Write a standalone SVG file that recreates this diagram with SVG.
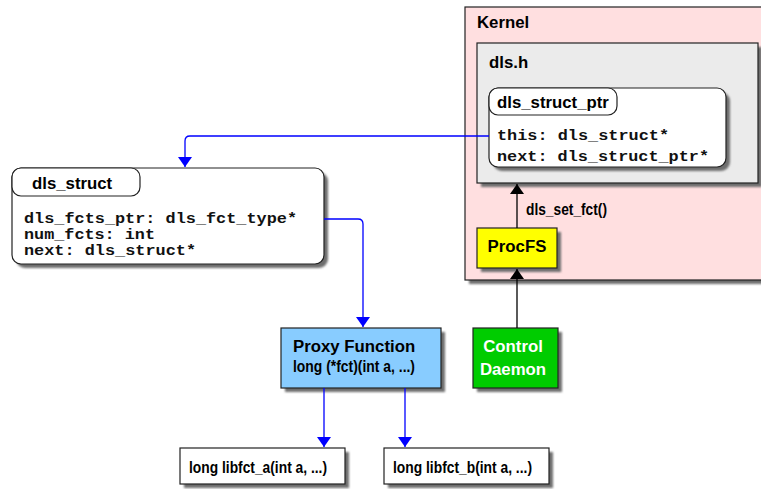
<svg xmlns="http://www.w3.org/2000/svg" width="761" height="489" viewBox="0 0 761 489">
  <defs>
    <filter id="soft" x="-10%" y="-10%" width="130%" height="130%">
      <feGaussianBlur stdDeviation="1"/>
    </filter>
    <marker id="arrBlack" viewBox="0 0 10 14" refX="10" refY="7" markerWidth="10" markerHeight="14" markerUnits="userSpaceOnUse" orient="auto">
      <path d="M0,0 L10,7 L0,14 Z" fill="#000"/>
    </marker>
    <marker id="arrBlue" viewBox="0 0 10 14" refX="10" refY="7" markerWidth="10" markerHeight="14" markerUnits="userSpaceOnUse" orient="auto">
      <path d="M0,0 L10,7 L0,14 Z" fill="#0000ff"/>
    </marker>
  </defs>
  <style>
    .shadow { fill: #6e6e6e; filter: url(#soft); }
    .box { stroke: #222; stroke-width: 1.2; }
    .sans { font-family: "Liberation Sans", Arial, sans-serif; font-weight: bold; font-size: 16.8px; fill: #000; }
    .mono { font-family: "Liberation Mono", "Courier New", monospace; font-weight: bold; font-size: 14px; fill: #111; }
    .white { fill: #fff; }
    .blue { stroke: #0000ff; stroke-width: 1.3; fill: none; }
    .black { stroke: #000; stroke-width: 1.3; fill: none; }
  </style>

  <rect width="761" height="489" fill="#fff"/>

  <!-- Kernel container -->
  <g id="kernel">
    <rect class="shadow" x="469" y="11" width="300" height="273"/>
    <rect class="box" x="465" y="7" width="300" height="273" fill="#ffdfe0"/>
    <text class="sans" x="477" y="28">Kernel</text>
  </g>

  <!-- dls.h header -->
  <g id="dls_h">
    <rect class="shadow" x="481" y="47" width="281" height="140"/>
    <rect class="box" x="477" y="43" width="281" height="140" fill="#ebebeb"/>
    <text class="sans" x="489" y="68">dls.h</text>
  </g>

  <!-- dls_struct_ptr record -->
  <g id="dls_struct_ptr">
    <rect class="shadow" x="493" y="92" width="237" height="79" rx="9"/>
    <rect class="box" x="489" y="88" width="237" height="79" rx="9" fill="#fff"/>
    <rect class="box" x="489" y="88" width="128" height="27" rx="9" fill="#fff"/>
    <text class="sans" x="497" y="108">dls_struct_ptr</text>
    <text class="mono" x="497" y="140" textLength="172" lengthAdjust="spacingAndGlyphs">this: dls_struct*</text>
    <text class="mono" x="497" y="161" textLength="212" lengthAdjust="spacingAndGlyphs">next: dls_struct_ptr*</text>
  </g>

  <!-- dls_struct record -->
  <g id="dls_struct">
    <rect class="shadow" x="16" y="172" width="312" height="96" rx="9"/>
    <rect class="box" x="12" y="168" width="312" height="96" rx="9" fill="#fff"/>
    <rect class="box" x="12" y="168" width="128" height="28" rx="9" fill="#fff"/>
    <text class="sans" x="32" y="189">dls_struct</text>
    <text class="mono" x="24" y="223" textLength="273" lengthAdjust="spacingAndGlyphs">dls_fcts_ptr: dls_fct_type*</text>
    <text class="mono" x="24" y="239" textLength="131" lengthAdjust="spacingAndGlyphs">num_fcts: int</text>
    <text class="mono" x="24" y="255" textLength="172" lengthAdjust="spacingAndGlyphs">next: dls_struct*</text>
  </g>

  <!-- ProcFS -->
  <g id="procfs">
    <rect class="shadow" x="481" y="232" width="80" height="40"/>
    <rect class="box" x="477" y="228" width="80" height="40" fill="#ffff00"/>
    <text class="sans" x="517" y="252" text-anchor="middle">ProcFS</text>
  </g>

  <!-- Control Daemon -->
  <g id="control_daemon">
    <rect class="shadow" x="477" y="332" width="85" height="60"/>
    <rect class="box" x="473" y="328" width="85" height="60" fill="#00cc00"/>
    <text class="sans white" x="513" y="352" text-anchor="middle">Control</text>
    <text class="sans white" x="513" y="375" text-anchor="middle">Daemon</text>
  </g>

  <!-- Proxy Function -->
  <g id="proxy_function">
    <rect class="shadow" x="285" y="332" width="160" height="60"/>
    <rect class="box" x="281" y="328" width="160" height="60" fill="#88ccff"/>
    <text class="sans" x="293" y="352">Proxy Function</text>
    <text class="sans" x="293" y="372" textLength="122" lengthAdjust="spacingAndGlyphs">long (*fct)(int a, ...)</text>
  </g>

  <!-- Library functions -->
  <g id="libfct_a">
    <rect class="shadow" x="184" y="452" width="165" height="36"/>
    <rect class="box" x="180" y="448" width="165" height="36" fill="#fff"/>
    <text class="sans" x="189" y="473" textLength="138" lengthAdjust="spacingAndGlyphs">long libfct_a(int a, ...)</text>
  </g>
  <g id="libfct_b">
    <rect class="shadow" x="388" y="452" width="165" height="36"/>
    <rect class="box" x="384" y="448" width="165" height="36" fill="#fff"/>
    <text class="sans" x="393" y="473" textLength="139" lengthAdjust="spacingAndGlyphs">long libfct_b(int a, ...)</text>
  </g>

  <!-- Connectors -->
  <g id="connectors">
    <path class="blue" d="M489,136 H190 Q185,136 185,141 V167" marker-end="url(#arrBlue)"/>
    <path class="blue" d="M324,219 H358 Q363,219 363,224 V327" marker-end="url(#arrBlue)"/>
    <path class="blue" d="M324,388 V447" marker-end="url(#arrBlue)"/>
    <path class="blue" d="M405,388 V447" marker-end="url(#arrBlue)"/>
    <path class="black" d="M517,228 V184" marker-end="url(#arrBlack)"/>
    <path class="black" d="M517,328 V269" marker-end="url(#arrBlack)"/>
    <text class="sans" x="526" y="215" textLength="81" lengthAdjust="spacingAndGlyphs">dls_set_fct()</text>
  </g>
</svg>
